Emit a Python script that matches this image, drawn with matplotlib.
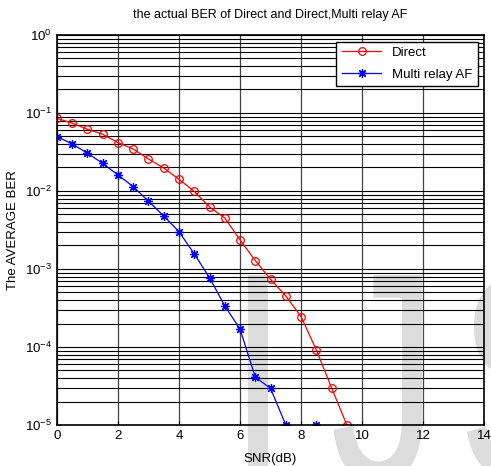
import numpy as np
import matplotlib
matplotlib.use('Agg')
import matplotlib.pyplot as plt
from matplotlib.ticker import LogLocator, NullFormatter
from matplotlib.textpath import TextPath
from matplotlib.font_manager import FontProperties
from matplotlib.patches import PathPatch
from matplotlib.transforms import Affine2D, IdentityTransform

plt.rcParams['font.family'] = ['Liberation Sans', 'DejaVu Sans']

snr = np.arange(0, 10, 0.5)
ber_direct = [0.0855, 0.0738, 0.0618, 0.0533, 0.0417, 0.0345, 0.0257, 0.0197,
              0.0141, 0.0099, 0.00623, 0.00451, 0.00236, 0.00128, 0.000738,
              0.000451, 0.000245, 9.2e-5, 3.0e-5, 1.0e-5]
ber_relay = [0.0497, 0.0401, 0.0304, 0.0226, 0.0160, 0.01137, 0.00738, 0.00478,
             0.00301, 0.00156, 0.000774, 0.000336, 0.00017, 4.1e-5, 2.95e-5,
             1.0e-5, np.nan, 1.0e-5, np.nan, np.nan]

W, H = 491, 466
fig = plt.figure(figsize=(W / 100, H / 100), dpi=100)

# faint watermark letters behind the plot (pixel coords)
fp = FontProperties(family='Liberation Sans')
for ch, x_edge, side in [('I', 248, 'left'), ('J', 422, 'right'), ('S', 467, 'left')]:
    tp = TextPath((0, 0), ch, size=100, prop=fp)
    ext = TextPath((0, 0), 'I', size=100, prop=fp).get_extents()
    sy = (H - 275) / ext.height * 1.08   # cap height so the top sits at y=275
    sx = sy * 0.72
    tp = Affine2D().scale(sx / 1.0, sy / 1.0).transform_path(tp)
    e = tp.get_extents()
    dx = x_edge - (e.x0 if side == 'left' else e.x1)
    top = max(e.y1, ext.y1 * sy)
    dy = (H - 275) - ext.y1 * sy
    tp = Affine2D().translate(dx, dy).transform_path(tp)
    fig.patches.append(PathPatch(tp, transform=IdentityTransform(),
                                 facecolor='#dcdcdc', edgecolor='none', zorder=-1))

ax = fig.add_axes([0.116, 0.088, 0.870, 0.837])
ax.set_facecolor('none')
ax.set_yscale('log')

ax.plot(snr, ber_direct, 'r-o', lw=0.9, markersize=5.5, mfc='none', mew=0.9, label='Direct')
ax.plot(snr, ber_relay, color='b', ls='-', marker=(8, 2, 0), lw=0.9, markersize=6.5,
        mew=0.9, label='Multi relay AF')

ax.set_xlim(0, 14)
ax.set_ylim(1e-5, 1)
ax.set_xticks(range(0, 15, 2))
ax.yaxis.set_major_locator(LogLocator(base=10, numticks=10))
ax.yaxis.set_minor_locator(LogLocator(base=10, subs=np.arange(2, 10), numticks=20))
ax.yaxis.set_minor_formatter(NullFormatter())

ax.grid(True, which='major', axis='y', color='black', lw=0.8)
ax.grid(True, which='minor', axis='y', color='black', lw=0.8)
ax.grid(True, which='major', axis='x', color='#444444', lw=0.9)
ax.tick_params(direction='in', labelsize=9.5, length=3)
ax.tick_params(which='minor', length=2, direction='in')
for s in ax.spines.values():
    s.set_linewidth(1.2)

ax.set_title('the actual BER of Direct and Direct,Multi relay AF', fontsize=9, pad=12)
ax.set_xlabel('SNR(dB)', fontsize=9.5, labelpad=8)
ax.set_ylabel('The AVERAGE BER', fontsize=9.5)

leg = ax.legend(loc='upper right', fontsize=9.5, fancybox=False, framealpha=1,
                edgecolor='black', borderaxespad=0.5, handlelength=3,
                labelspacing=0.7)
leg.get_frame().set_linewidth(1.0)

fig.savefig('out.png', dpi=100)
